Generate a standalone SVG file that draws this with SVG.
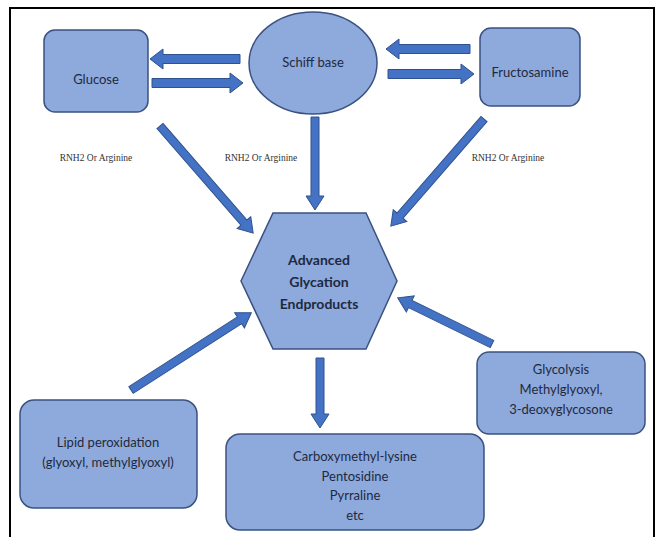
<svg xmlns="http://www.w3.org/2000/svg" width="661" height="537" viewBox="0 0 661 537">
<style>
.node{fill:#8EA9DB;stroke:#3A5280;stroke-width:1.5}
.t{font-family:Lato,"Open Sans","Liberation Sans",sans-serif;font-size:13px;fill:#1E2940;text-anchor:middle}
.b{font-weight:bold;font-size:14px}
.lab{font-family:"Liberation Serif",serif;font-size:9.5px;fill:#333;text-anchor:middle}
.arr{fill:#4472C4;stroke:#2F528F;stroke-width:1}
</style>
<rect width="661" height="537" fill="#fff"/>
<path d="M10,537 V8 H654 V537" fill="none" stroke="#000" stroke-width="2"/>
<g id="connectors">
<path class="arr" transform="translate(240,59) rotate(180)" d="M0,-4.5 H77 V-10 L90,0 L77,10 V4.5 H0 Z"/>
<path class="arr" transform="translate(152,83)" d="M0,-4.5 H78 V-10 L91,0 L78,10 V4.5 H0 Z"/>
<path class="arr" transform="translate(470,49) rotate(180)" d="M0,-4.5 H71 V-10 L84,0 L71,10 V4.5 H0 Z"/>
<path class="arr" transform="translate(388,74)" d="M0,-4.5 H73 V-10 L86,0 L73,10 V4.5 H0 Z"/>
<path class="arr" transform="translate(160,126) rotate(49)" d="M0,-4 H128 V-9 L142,0 L128,9 V4 H0 Z"/>
<path class="arr" transform="translate(315,117) rotate(90)" d="M0,-4 H79 V-9 L93,0 L79,9 V4 H0 Z"/>
<path class="arr" transform="translate(484,119) rotate(131)" d="M0,-4 H128 V-9 L142,0 L128,9 V4 H0 Z"/>
<path class="arr" transform="translate(131,390) rotate(-32.7)" d="M0,-4 H129 V-9 L143,0 L129,9 V4 H0 Z"/>
<path class="arr" transform="translate(492,344) rotate(206.1)" d="M0,-4 H91 V-9 L105,0 L91,9 V4 H0 Z"/>
<path class="arr" transform="translate(320,358) rotate(90)" d="M0,-4 H56 V-9 L70,0 L56,9 V4 H0 Z"/>
</g>
<g id="labels">
<text class="lab" x="96" y="161">RNH2 Or Arginine</text>
<text class="lab" x="261" y="161">RNH2 Or Arginine</text>
<text class="lab" x="508" y="161">RNH2 Or Arginine</text>
</g>
<g id="glucose">
<rect class="node" x="44" y="30" width="104" height="82" rx="11"/>
<text class="t" x="96" y="84">Glucose</text>
</g>
<g id="schiff">
<ellipse class="node" cx="313" cy="63" rx="64" ry="51"/>
<text class="t" x="313" y="67">Schiff base</text>
</g>
<g id="fructosamine">
<rect class="node" x="480" y="28" width="100" height="78" rx="11"/>
<text class="t" x="530" y="77">Fructosamine</text>
</g>
<g id="age">
<polygon class="node" points="273,213 366,213 397,281 366,349 273,349 241,281"/>
<text class="t b" x="319" y="265">Advanced</text>
<text class="t b" x="319" y="287">Glycation</text>
<text class="t b" x="319" y="309">Endproducts</text>
</g>
<g id="lipid">
<rect class="node" x="20" y="400" width="177" height="108" rx="14"/>
<text class="t" x="108" y="447">Lipid peroxidation</text>
<text class="t" x="108" y="467">(glyoxyl, methylglyoxyl)</text>
</g>
<g id="products">
<rect class="node" x="226" y="434" width="258" height="96" rx="14"/>
<text class="t" x="355" y="461">Carboxymethyl-lysine</text>
<text class="t" x="355" y="481">Pentosidine</text>
<text class="t" x="355" y="500">Pyrraline</text>
<text class="t" x="355" y="520">etc</text>
</g>
<g id="glycolysis">
<rect class="node" x="477" y="352" width="168" height="82" rx="12"/>
<text class="t" x="561" y="374">Glycolysis</text>
<text class="t" x="561" y="394">Methylglyoxyl,</text>
<text class="t" x="561" y="414">3-deoxyglycosone</text>
</g>
</svg>
